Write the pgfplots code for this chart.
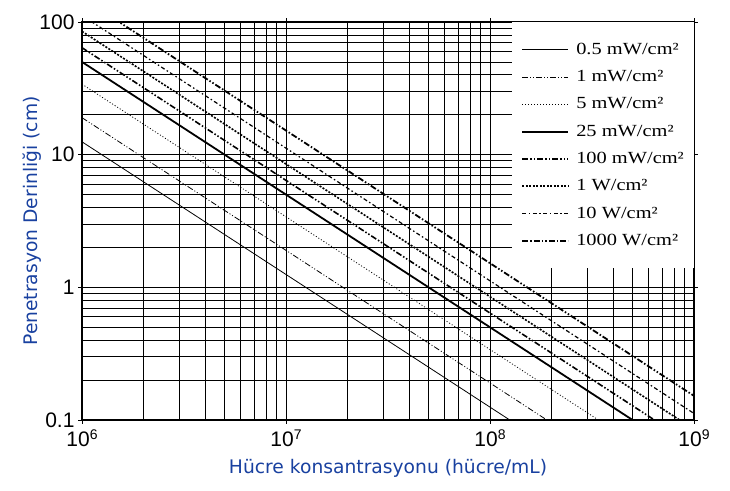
\documentclass[border=0pt]{standalone}
\usepackage{fontspec}
\setmainfont{Liberation Sans}
\newfontfamily\labelfont{DejaVu Sans}
\newfontfamily\legfont[FakeStretch=1.2]{Liberation Serif}
\usepackage{pgfplots}
\pgfplotsset{compat=1.18}
\definecolor{labblue}{RGB}{25,65,160}
\newcommand\supx[1]{\raisebox{7pt}{\fontsize{14}{14}\selectfont #1}}
\begin{document}
\begin{tikzpicture}
\begin{axis}[
  scale only axis, width=612pt, height=398pt,
  xmode=log, ymode=log,
  xmin=1e6, xmax=1e9, ymin=0.1, ymax=100,
  xtick={1e6,1e7,1e8,1e9},
  xticklabels={10\supx{6},10\supx{7},10\supx{8},10\supx{9}},
  ytick={0.1,1,10,100},
  yticklabels={0.1,1,10,100},
  ticklabel style={font=\fontsize{21}{21}\selectfont, black},
  xticklabel style={yshift=-2pt},
  grid=both,
  major grid style={black, line width=0.9pt},
  minor grid style={black, line width=0.6pt},
  axis line style={black, line width=1.2pt},
  tick align=outside, major tick length=4pt, minor tick length=0pt,
  tick style={black, line width=1pt},
  xlabel={Hücre konsantrasyonu (hücre/mL)},
  ylabel={Penetrasyon Derinliği (cm)},
  label style={font=\labelfont\fontsize{18.7}{18.7}\selectfont, text=labblue},
  xlabel style={at={(axis description cs:0.5,-0.1206)}, anchor=center},
  ylabel style={at={(axis description cs:-0.082,0.5)}, anchor=center, rotate=0},
  legend cell align=left,
  legend image code/.code={\draw[#1] (0pt,0pt) -- (46pt,0pt);},
  legend style={at={(1,1)}, anchor=north east, draw=none, fill=white,
    font=\legfont\fontsize{17}{17}\selectfont,
    inner xsep=9pt, inner ysep=19pt, row sep=10.3pt,
    nodes={inner sep=1pt, text height=12pt, text depth=3pt},
    /tikz/every odd column/.append style={column sep=6pt}},
]
\addplot[black, line width=0.8pt] coordinates {(1e6,12.5) (1e9,0.0125)};
\addlegendentry{0.5 mW/cm²}
\addplot[black, line width=0.8pt, dash pattern=on 6pt off 2pt on 1pt off 2pt on 1pt off 2pt] coordinates {(1e6,19) (1e9,0.019)};
\addlegendentry{1 mW/cm²}
\addplot[black, line width=0.8pt, dash pattern=on 1pt off 2pt] coordinates {(1e6,34) (1e9,0.034)};
\addlegendentry{5 mW/cm²}
\addplot[black, line width=1.8pt] coordinates {(1e6,50) (1e9,0.05)};
\addlegendentry{25 mW/cm²}
\addplot[black, line width=1.6pt, dash pattern=on 6pt off 2pt on 1.5pt off 2pt on 1.5pt off 2pt] coordinates {(1e6,64) (1e9,0.064)};
\addlegendentry{100 mW/cm²}
\addplot[black, line width=1.6pt, dash pattern=on 2pt off 1.5pt] coordinates {(1e6,85) (1e9,0.085)};
\addlegendentry{1 W/cm²}
\addplot[black, line width=1.2pt, dash pattern=on 4pt off 2.5pt on 1.5pt off 2.5pt] coordinates {(1e6,112) (1e9,0.112)};
\addlegendentry{10 W/cm²}
\addplot[black, line width=1.8pt, dash pattern=on 6pt off 2pt on 1.5pt off 2pt on 6pt off 2pt on 1.5pt off 2pt on 1.5pt off 2pt] coordinates {(1e6,152) (1e9,0.152)};
\addlegendentry{1000 W/cm²}
\end{axis}
\pgfresetboundingbox
\path ([shift={(-82pt,-70pt)}]current axis.south west) rectangle ([shift={(36pt,22pt)}]current axis.north east);
\end{tikzpicture}
\end{document}
